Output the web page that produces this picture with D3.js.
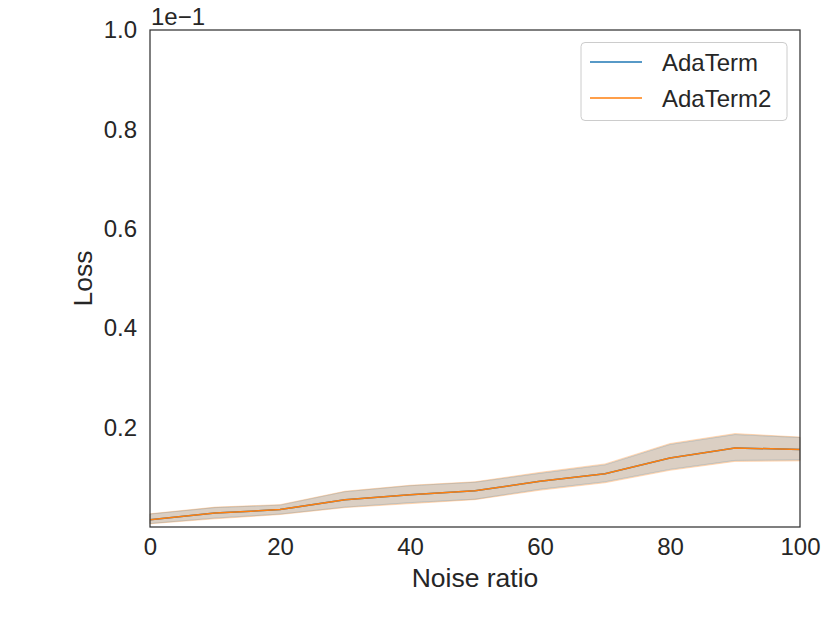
<!DOCTYPE html>
<html><head><meta charset="utf-8">
<script src="https://cdn.jsdelivr.net/npm/d3@7/dist/d3.min.js"></script>
<style>body{margin:0;background:#fff}</style>
</head><body>
<script>
const noise = [0,10,20,30,40,50,60,70,80,90,100];
const ada1Mean = [0.0145,0.028,0.035,0.055,0.065,0.073,0.092,0.107,0.139,0.159,0.156];
const ada1Lo   = [0.0070,0.018,0.026,0.040,0.049,0.056,0.076,0.091,0.116,0.134,0.135];
const ada1Hi   = [0.0260,0.039,0.044,0.071,0.083,0.090,0.108,0.125,0.166,0.186,0.180];
const ada2Mean = [0.0145,0.028,0.035,0.055,0.065,0.073,0.092,0.107,0.139,0.159,0.156];
const ada2Lo   = [0.0065,0.0165,0.025,0.039,0.047,0.055,0.074,0.089,0.114,0.132,0.133];
const ada2Hi   = [0.0266,0.040,0.045,0.072,0.084,0.091,0.110,0.127,0.168,0.188,0.181];
const xTicks = [0,20,40,60,80,100];
const yTicks = [0.2,0.4,0.6,0.8,1.0];
const seriesNames = ["AdaTerm","AdaTerm2"];
const colors = ["#1f77b4","#ff7f0e"];

const W=830,H=623, L=150,R=800,T=30,B=527;
const FF="'Liberation Sans', Arial, sans-serif";
const svg=d3.select("body").append("svg").attr("width",W).attr("height",H)
  .style("font-family",FF);
const x=d3.scaleLinear().domain([0,100]).range([L,R]);
const y=d3.scaleLinear().domain([0,1]).range([B,T]);

const series=[
  {name:seriesNames[0],mean:ada1Mean,lo:ada1Lo,hi:ada1Hi,color:colors[0]},
  {name:seriesNames[1],mean:ada2Mean,lo:ada2Lo,hi:ada2Hi,color:colors[1]}
];
const area=d3.area().x((d,i)=>x(noise[i])).y0(d=>y(d[0])).y1(d=>y(d[1]));
const line=d3.line().x((d,i)=>x(noise[i])).y(d=>y(d));
series.forEach(s=>{
  svg.append("path").datum(s.lo.map((v,i)=>[v,s.hi[i]])).attr("d",area)
    .attr("fill",s.color).attr("fill-opacity",0.2).attr("stroke",s.color).attr("stroke-opacity",0.25).attr("stroke-width",1);
});
series.forEach(s=>{
  svg.append("path").datum(s.mean).attr("d",line).attr("fill","none")
    .attr("stroke",s.color).attr("stroke-width",1.5);
});

// frame
svg.append("rect").attr("x",L).attr("y",T).attr("width",R-L).attr("height",B-T)
  .attr("fill","none").attr("stroke","#333").attr("stroke-width",1.25);

const tc="#262626";
const xa=svg.append("g").attr("transform",`translate(0,${B})`)
  .call(d3.axisBottom(x).tickValues(xTicks).tickSize(0).tickPadding(11).tickFormat(d3.format("d")));
xa.select(".domain").remove();
xa.selectAll("text").attr("font-size",24).attr("fill",tc).style("font-family",FF);
const ya=svg.append("g").attr("transform",`translate(${L},0)`)
  .call(d3.axisLeft(y).tickValues(yTicks).tickSize(0).tickPadding(13).tickFormat(d3.format(".1f")));
ya.select(".domain").remove();
ya.selectAll("text").attr("font-size",24).attr("fill",tc).style("font-family",FF);

svg.append("text").attr("x",L+1).attr("y",25).attr("font-size",24).attr("fill",tc).text("1e\u22121");
svg.append("text").attr("x",(L+R)/2).attr("y",587).attr("text-anchor","middle").attr("font-size",26.5).attr("fill",tc).text("Noise ratio");
svg.append("text").attr("transform",`translate(92,${(T+B)/2}) rotate(-90)`).attr("text-anchor","middle").attr("font-size",26.5).attr("fill",tc).text("Loss");

// legend
const lg=svg.append("g");
lg.append("rect").attr("x",581).attr("y",42.5).attr("width",206).attr("height",78).attr("rx",4)
  .attr("fill","#fff").attr("fill-opacity",0.8).attr("stroke","#ccc").attr("stroke-width",1);
series.forEach((s,i)=>{
  const yy=62+i*36;
  lg.append("line").attr("x1",590).attr("x2",642).attr("y1",yy).attr("y2",yy).attr("stroke",s.color).attr("stroke-width",1.5);
  lg.append("text").attr("x",662).attr("y",yy+8.5).attr("font-size",24).attr("fill",tc).text(s.name);
});
</script>
</body></html>
